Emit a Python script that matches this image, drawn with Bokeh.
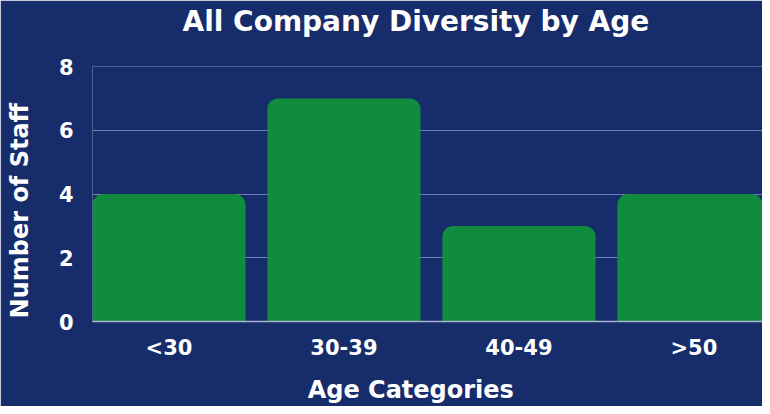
from bokeh.plotting import figure
from bokeh.models import ColumnDataSource, FixedTicker, Range1d, Title
from bokeh.embed import file_html
from bokeh.resources import INLINE

categories = ["<30", "30-39", "40-49", ">50"]
staff = [4, 7, 3, 4]
y_ticks = [0, 2, 4, 6, 8]
title_text = "All Company Diversity by Age"
x_label = "Age Categories"
y_label = "Number of Staff"

BG = "#172d6b"
GREEN = "#118c3f"
FONT = "DejaVu Sans"
PAD = "\u00a0" * 4  # shifts the centred axis labels towards their start, as in the reference

positions = list(range(len(categories)))
src = ColumnDataSource(dict(x=positions, top=staff, cat=categories))

p = figure(width=762, height=406, output_backend="svg", toolbar_location=None,
           x_range=Range1d(-0.437, 3.392), y_range=Range1d(0, 8),
           min_border_left=92, min_border_right=0, min_border_top=66, min_border_bottom=85,
           background_fill_color=BG, border_fill_color=BG, outline_line_color=None,
           title_location=None)

p.vbar(x="x", top="top", width=0.875, source=src, fill_color=GREEN, line_color=None,
       border_radius=(11, 11, 0, 0))

# spacer between the frame and the title (closest to frame)
p.add_layout(Title(text=" ", text_font_size="1px", standoff=26, text_color=BG), "above")
p.add_layout(Title(text=title_text, text_color="white", text_font=FONT,
                   text_font_size="28px", text_font_style="bold",
                   align="left", offset=90, standoff=0), "above")

p.xaxis.ticker = FixedTicker(ticks=positions)
p.xaxis.major_label_overrides = {i: c for i, c in enumerate(categories)}
p.xaxis.axis_label = x_label + PAD
p.yaxis.ticker = FixedTicker(ticks=y_ticks)
p.yaxis.axis_label = y_label + PAD

for ax in p.axis:
    ax.major_tick_line_color = None
    ax.minor_tick_line_color = None
    ax.major_label_text_color = "white"
    ax.major_label_text_font = FONT
    ax.major_label_text_font_style = "bold"
    ax.major_label_text_font_size = "21px"
    ax.axis_label_text_color = "white"
    ax.axis_label_text_font = FONT
    ax.axis_label_text_font_style = "bold"
    ax.axis_label_text_font_size = "24px"

p.xaxis.axis_line_color = "#aab2cf"
p.xaxis.axis_line_width = 1.5
p.yaxis.axis_line_color = None
p.xaxis.major_label_standoff = 8
p.xaxis.axis_label_standoff = 13
p.yaxis.major_label_standoff = 13
p.yaxis.axis_label_standoff = 22

p.xgrid.grid_line_color = None
p.ygrid.grid_line_color = "#7080b0"
p.ygrid.grid_line_width = 1

open("out.html", "w").write(file_html(p, INLINE))
